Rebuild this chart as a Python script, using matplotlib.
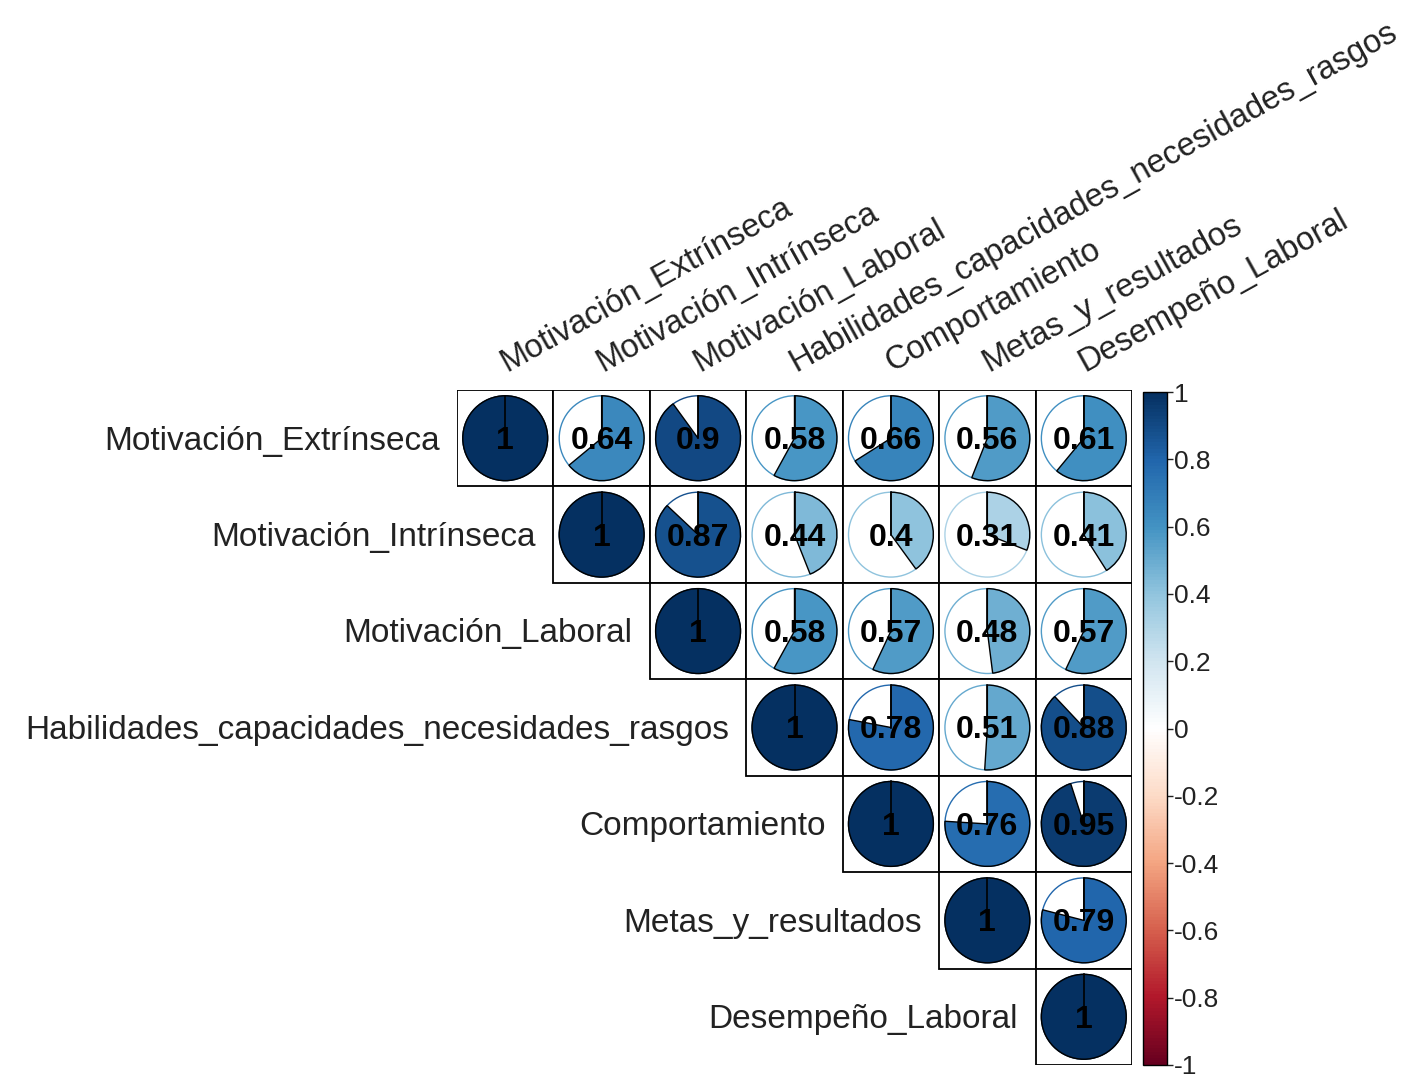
import numpy as np
import matplotlib.pyplot as plt
from matplotlib.colors import LinearSegmentedColormap, Normalize
from matplotlib.patches import Rectangle, Circle, Wedge
import matplotlib as mpl

plt.rcParams["font.family"] = ["Liberation Sans", "DejaVu Sans"]
plt.rcParams["axes.unicode_minus"] = False

variables = ["Motivación_Extrínseca", "Motivación_Intrínseca", "Motivación_Laboral",
             "Habilidades_capacidades_necesidades_rasgos", "Comportamiento",
             "Metas_y_resultados", "Desempeño_Laboral"]

# triangulo superior de la matriz de correlaciones (fila por fila)
fila_1 = [1, 0.64, 0.9, 0.58, 0.66, 0.56, 0.61]
fila_2 = [1, 0.87, 0.44, 0.4, 0.31, 0.41]
fila_3 = [1, 0.58, 0.57, 0.48, 0.57]
fila_4 = [1, 0.78, 0.51, 0.88]
fila_5 = [1, 0.76, 0.95]
fila_6 = [1, 0.79]
fila_7 = [1]
filas = [fila_1, fila_2, fila_3, fila_4, fila_5, fila_6, fila_7]

colores = ["#67001F", "#B2182B", "#D6604D", "#F4A582", "#FDDBC7", "#FFFFFF",
           "#D1E5F0", "#92C5DE", "#4393C3", "#2166AC", "#053061"]
cmap = LinearSegmentedColormap.from_list("RdBu_corr", colores, N=200)
norm = Normalize(-1, 1)

n = len(variables)
fig = plt.figure(figsize=(14.18, 10.82), dpi=100)
ax = fig.add_axes([457 / 1418, 1 - 1065 / 1082, 675 / 1418, 675 / 1082])
ax.set_xlim(0, n)
ax.set_ylim(n, 0)
ax.axis("off")

radio = 0.44
for i, fila in enumerate(filas):
    for k, r in enumerate(fila):
        j = i + k
        cx, cy = j + 0.5, i + 0.5
        col = cmap(norm(r))
        ax.add_patch(Rectangle((j, i), 1, 1, facecolor="white", edgecolor="black", lw=1.3))
        ax.add_patch(Circle((cx, cy), radio, facecolor="white", edgecolor=col, lw=1))
        # eje y invertido: -90 es las 12 y el pie crece en sentido horario
        ang = 360 * abs(r)
        ax.add_patch(Wedge((cx, cy), radio, -90, -90 + ang, facecolor=col,
                           edgecolor="black", lw=1))
        ax.plot([cx, cx], [cy, cy - radio], color="black", lw=1.2)
        ax.text(cx, cy + 0.03, f"{r:g}", ha="center", va="center", fontsize=23,
                fontweight="bold", color="black")

# etiquetas de filas y columnas
for i, v in enumerate(variables):
    ax.text(i - 0.18, i + 0.53, v, ha="right", va="center", fontsize=24,
            color="#222222", clip_on=False)
    ax.text(i + 0.55, -0.12, v, ha="left", va="bottom", rotation=29,
            rotation_mode="anchor", fontsize=23.5, color="#222222", clip_on=False)

# barra de color
ticks = np.round(np.arange(-1, 1.01, 0.2), 1) + 0.0
cax = fig.add_axes([1143 / 1418, 1 - 1065 / 1082, 24 / 1418, 673 / 1082])
cb = mpl.colorbar.ColorbarBase(cax, cmap=cmap, norm=norm, ticks=ticks)
cb.ax.set_yticklabels([f"{t:g}" for t in ticks])
cb.ax.tick_params(labelsize=19, length=4, width=1, pad=1, colors="#222222")
cb.outline.set_linewidth(1)

plt.savefig("out.png", dpi=100)
plt.close()
